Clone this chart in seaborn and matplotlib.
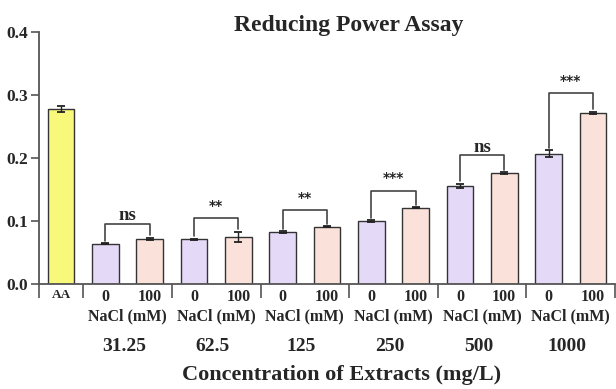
import matplotlib
matplotlib.use('Agg')
import matplotlib.pyplot as plt
import matplotlib.transforms as mtransforms
import seaborn as sns
import pandas as pd
import numpy as np

# ---------------- data ----------------
concentrations = ["31.25", "62.5", "125", "250", "500", "1000"]
nacl_levels = ["0", "100"]
aa_label = "AA"
aa_value = 0.278
aa_err = 0.005
means_0 = [0.064, 0.071, 0.0825, 0.100, 0.156, 0.207]
means_100 = [0.072, 0.075, 0.091, 0.121, 0.176, 0.272]
err_0 = [0.001, 0.0005, 0.0015, 0.0015, 0.003, 0.005]
err_100 = [0.0015, 0.008, 0.001, 0.0008, 0.001, 0.0015]
sig_labels = ["ns", "**", "**", "***", "ns", "***"]
bracket_heights = [0.096, 0.104, 0.1175, 0.148, 0.204, 0.303]

title = "Reducing Power Assay"
xlabel = "Concentration of Extracts (mg/L)"
group_sub = "NaCl (mM)"

col_aa = "#F8F87A"
col_0 = "#E5D9F8"
col_100 = "#FAE2DA"

# ---------------- table ----------------
rows = [{"bar": aa_label, "value": aa_value, "err": aa_err, "tick": aa_label, "color": col_aa}]
for c, m0, m1, e0, e1 in zip(concentrations, means_0, means_100, err_0, err_100):
    rows.append({"bar": f"{c}-0", "value": m0, "err": e0, "tick": nacl_levels[0], "color": col_0})
    rows.append({"bar": f"{c}-100", "value": m1, "err": e1, "tick": nacl_levels[1], "color": col_100})
df = pd.DataFrame(rows)

sns.set_style("ticks")
plt.rcParams['font.family'] = ['Liberation Serif', 'DejaVu Serif']
plt.rcParams['font.weight'] = 'bold'

fig = plt.figure(figsize=(6.16, 3.89), dpi=100)
ax = fig.add_axes([39/616, 1-284/389, 576/616, 252/389])

sns.barplot(data=df, x="bar", y="value", hue="bar", order=list(df["bar"]),
            palette=list(df["color"]), legend=False, width=0.6, saturation=1,
            edgecolor="#333333", linewidth=1.0, errorbar=None, ax=ax)

bars = sorted(ax.patches, key=lambda p: p.get_x())
centers = [p.get_x() + p.get_width()/2 for p in bars]
heights = [p.get_height() for p in bars]

ax.errorbar(centers, heights, yerr=df["err"].values, fmt='none', ecolor="#222222",
            elinewidth=1.0, capsize=3, capthick=1.3, zorder=5)

# significance brackets
gap = 0.004
for i, (lab, h) in enumerate(zip(sig_labels, bracket_heights)):
    i0, i1 = 1 + 2*i, 2 + 2*i
    x0, x1 = centers[i0], centers[i1]
    y0 = heights[i0] + df["err"].iloc[i0] + gap
    y1 = heights[i1] + df["err"].iloc[i1] + gap
    ax.plot([x0, x0, x1, x1], [y0, h, h, y1], color="#444444", lw=1.2, zorder=6)
    if lab == "ns":
        ax.annotate(lab, xy=((x0+x1)/2, h), xytext=(0, 2.5), textcoords='offset points',
                    ha='center', va='baseline', fontsize=13.5, fontweight='bold')
    else:
        ax.annotate(lab, xy=((x0+x1)/2, h), xytext=(0, 6.0), textcoords='offset points',
                    ha='center', va='baseline', fontsize=10, fontweight='bold',
                    family=['DejaVu Sans'])

# axes styling
ax.set_xlim(-0.5, len(df) - 0.5)
ax.set_ylim(0, 0.4)
ax.set_yticks([0.0, 0.1, 0.2, 0.3, 0.4])
ax.set_yticklabels([f"{v:.1f}" for v in [0.0, 0.1, 0.2, 0.3, 0.4]], fontsize=12.5, fontweight='bold')
ax.set_ylabel("")
ax.set_xticks(centers)
ax.set_xticklabels(list(df["tick"]), fontsize=11.5, fontweight='bold')
for lbl in ax.get_xticklabels():
    if lbl.get_text() == aa_label:
        lbl.set_fontsize(9.5)
ax.set_xticks([-0.5] + [0.5 + 2*k for k in range(len(concentrations)+1)], minor=True)
ax.tick_params(axis='x', which='major', length=0, pad=3.5)
ax.tick_params(axis='x', which='minor', length=10, width=1.2, color="#555555", direction='out')
ax.tick_params(axis='y', which='major', length=6, width=1.2, color="#555555", pad=2)
for s in ["top", "right"]:
    ax.spines[s].set_visible(False)
for s in ["left", "bottom"]:
    ax.spines[s].set_color("#555555")
    ax.spines[s].set_linewidth(1.3)

trans = mtransforms.blended_transform_factory(ax.transData, ax.transAxes)
for i, c in enumerate(concentrations):
    xc = (centers[1+2*i] + centers[2+2*i]) / 2
    ax.text(xc, -0.130, group_sub, transform=trans, ha='center', va='center',
            fontsize=11.5, fontweight='bold')
    ax.text(xc - 0.08, -0.249, c, transform=trans, ha='center', va='center',
            fontsize=14, fontweight='bold')

ax.set_xlabel(xlabel, fontsize=16, fontweight='bold', va='center')
ax.xaxis.set_label_coords(0.525, -0.361)

fig.text(349/616, 1 - 26/389, title, ha='center', va='center', fontsize=17, fontweight='bold')

fig.savefig("out.png", dpi=100)
